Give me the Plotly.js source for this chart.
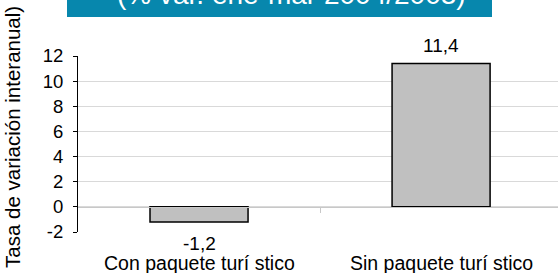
<!DOCTYPE html>
<html><head><meta charset="utf-8">
<script src="https://cdn.plot.ly/plotly-3.0.1.min.js"></script>
<style>html,body{margin:0;padding:0;overflow:hidden;background:#fff}</style>
</head><body><div id="chart" style="width:558px;height:273px"></div>
<script>
const categories = ["Con paquete turí stico", "Sin paquete turí stico"];
const values = [-1.2, 11.4];
const yTickVals = [-2, 0, 2, 4, 6, 8, 10, 12];
const yTickText = ["-2", "0", "2", "4", "6", "8", "10", "12"];
const titleText = "(% var. ene-mar 2004/2003)";
const yTitleText = "Tasa de variación interanual)";

const FONT = "Liberation Sans, Arial, Helvetica, sans-serif";
const xIdx = categories.map((c, i) => i);

const trace = {
  type: "bar",
  x: xIdx,
  y: values,
  width: 0.405,
  marker: {color: "#c0c0c0", line: {color: "#000000", width: 1.5}},
  hoverinfo: "none"
};

const annotations = [];
values.forEach((v, i) => {
  annotations.push({
    x: i, y: v, xref: "x", yref: "y",
    text: v.toFixed(1).replace(".", ","),
    showarrow: false, xanchor: "center", yanchor: "middle",
    yshift: v >= 0 ? 18 : -22, borderpad: 0,
    font: {family: FONT, size: 19, color: "#000"}
  });
});
categories.forEach((c, i) => {
  annotations.push({
    x: i, y: -0.1785, xref: "x", yref: "paper",
    text: c, showarrow: false, xanchor: "center", yanchor: "middle", borderpad: 0,
    font: {family: FONT, size: 19.5, color: "#000"}
  });
});
annotations.push({
  x: 0.444, y: 1.314, yshift: 6, xref: "paper", yref: "paper",
  text: titleText, showarrow: false, xanchor: "center", yanchor: "middle",
  font: {family: FONT, size: 28, color: "#ffffff"}
});
annotations.push({
  x: 0, xshift: -65, y: 0.54, xref: "paper", yref: "paper",
  text: yTitleText, showarrow: false, textangle: -90,
  xanchor: "center", yanchor: "middle",
  font: {family: FONT, size: 20.5, color: "#000"}
});

const layout = {
  width: 558, height: 273,
  margin: {l: 78, r: 0, t: 55.5, b: 41, pad: 0},
  paper_bgcolor: "#ffffff", plot_bgcolor: "#ffffff",
  showlegend: false,
  font: {family: FONT, color: "#000"},
  xaxis: {
    range: [-0.5, 1.483],
    anchor: "free", position: 2 / 14,
    showticklabels: false, showgrid: false, zeroline: false,
    showline: true, linecolor: "#c8c8c8", linewidth: 1,
    ticks: "outside", tickvals: [0.5], ticklen: 5, tickcolor: "#c8c8c8"
  },
  yaxis: {
    range: [-2, 12],
    tickvals: yTickVals, ticktext: yTickText,
    tickfont: {family: FONT, size: 18.5, color: "#000"},
    showgrid: true, gridcolor: "#d9d9d9", gridwidth: 1,
    zeroline: false,
    showline: true, linecolor: "#000", linewidth: 1,
    ticks: "outside", ticklen: 4, tickcolor: "#000",
    ticklabelstandoff: 6
  },
  shapes: [{
    type: "rect", xref: "paper", yref: "paper",
    x0: -0.0229, x1: 0.8625, y0: 1.221, y1: 1.45,
    fillcolor: "#0787ad", line: {width: 0}, layer: "below"
  }],
  annotations: annotations
};

Plotly.newPlot("chart", [trace], layout, {displayModeBar: false, staticPlot: true});
</script>
</body></html>
